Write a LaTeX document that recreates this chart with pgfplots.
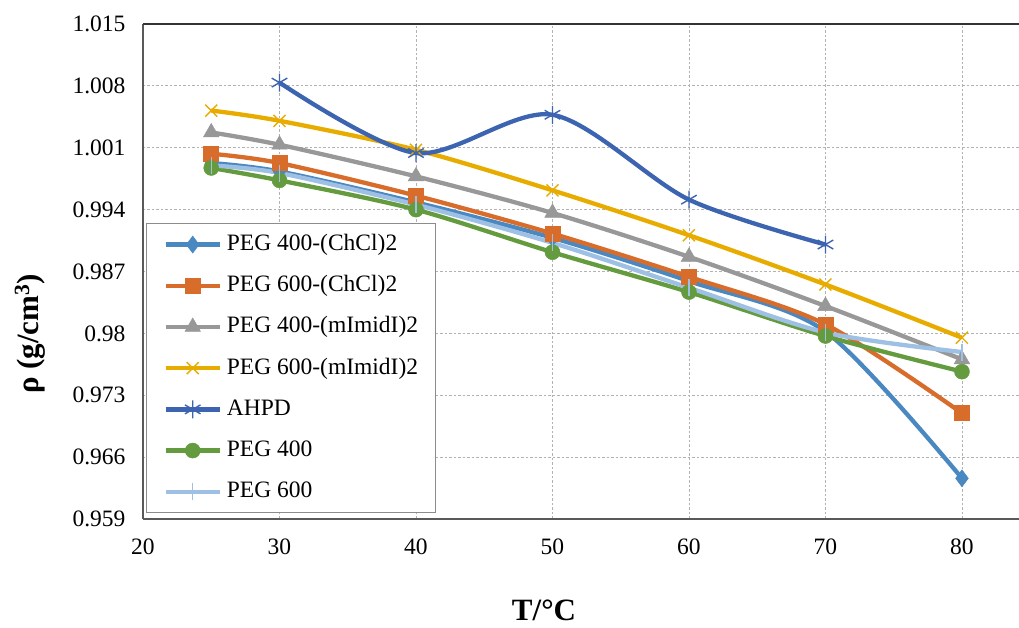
\documentclass[border=0pt]{standalone}
\usepackage{fontspec}
\setmainfont{Liberation Serif}
\usepackage{pgfplots}
\pgfplotsset{compat=1.18}
\usepackage{pgfplotstable}

\definecolor{cA}{RGB}{74,136,194}
\definecolor{cB}{RGB}{216,108,42}
\definecolor{cC}{RGB}{152,152,152}
\definecolor{cD}{RGB}{232,172,0}
\definecolor{cE}{RGB}{60,100,176}
\definecolor{cF}{RGB}{100,155,62}
\definecolor{cG}{RGB}{157,192,228}

\pgfplotstableread{
x y
25 0.99927
30 0.99832
40 0.99482
50 0.99081
60 0.98591
70 0.98020
80 0.96360
}\tA
\pgfplotstableread{
x y
25 1.00032
30 0.99927
40 0.99558
50 0.99129
60 0.98640
70 0.98102
80 0.97097
}\tB
\pgfplotstableread{
x y
25 1.00273
30 1.00134
40 0.99776
50 0.99362
60 0.98866
70 0.98309
80 0.97706
}\tC
\pgfplotstableread{
x y
25 1.00521
30 1.00405
40 1.00077
50 0.99618
60 0.99110
70 0.98553
80 0.97951
}\tD
\pgfplotstableread{
x y
30 1.00837
40 1.00040
50 1.00473
60 0.99513
70 0.99005
}\tE
\pgfplotstableread{
x y
25 0.99871
30 0.99731
40 0.99400
50 0.98918
60 0.98467
70 0.97970
80 0.97567
}\tF
\pgfplotstableread{
x y
25 0.99900
30 0.99814
40 0.99456
50 0.99024
60 0.98516
70 0.98010
80 0.97789
}\tG

\begin{document}
\begin{tikzpicture}
\path[use as bounding box] (-143pt,-109pt) rectangle (876pt,519pt);
\begin{axis}[
  at={(0pt,0pt)}, anchor=origin,
  scale only axis,
  width=876pt, height=495pt,
  xmin=20, xmax=84.18,
  ymin=0.959, ymax=1.015,
  xtick={20,30,40,50,60,70,80},
  ytick={0.959,0.966,0.973,0.980,0.987,0.994,1.001,1.008,1.015},
  yticklabels={0.959,0.966,0.973,0.98,0.987,0.994,1.001,1.008,1.015},
  /pgf/number format/assume math mode=true,
  tick label style={font=\fontsize{23.5}{28}\selectfont, text=black},
  xticklabel style={yshift=-16pt},
  yticklabel style={xshift=-14pt},
  major tick length=0pt,
  axis x line*=bottom,
  axis y line*=left,
  axis line style={draw=black!65, line width=1.6pt},
  grid=major,
  major grid style={draw=black!30, line width=0.8pt, dash pattern=on 2.5pt off 2pt},
  xlabel={\textbf{T/°C}},
  xlabel style={at={(rel axis cs:0.4578,0)}, anchor=base, yshift=-101pt, font=\fontsize{31}{36}\selectfont},
  ylabel={\textbf{ρ (g/cm\textsuperscript{3})}},
  ylabel style={at={(rel axis cs:0,0.374)}, anchor=center, yshift=113pt, font=\fontsize{31}{36}\selectfont},
  legend cell align=left,
  legend image code/.code={%
    \draw[mark repeat=2,mark phase=2,#1] plot coordinates {(0pt,0pt) (27pt,0pt) (54pt,0pt)};},
  legend style={at={(rel axis cs:0.0034,0.598)}, anchor=north west,
    draw=black!45, line width=1.2pt, fill=white,
    font=\fontsize{23.5}{28}\selectfont,
    inner xsep=17pt, inner ysep=10pt,
    row sep=19.2pt, column sep=5pt,
    nodes={inner sep=0pt, text height=17pt, text depth=5pt}},
  every axis plot/.append style={line width=4.3pt, smooth, tension=0.5},
]
\addplot[cA, mark=diamond*, mark size=8.5pt, mark options={solid, fill=cA, line width=0.5pt}] table {\tA};
\addlegendentry{PEG 400-(ChCl)2}
\addplot[cB, mark=square*, mark size=7.5pt, mark options={solid, fill=cB, line width=0.5pt}] table {\tB};
\addlegendentry{PEG 600-(ChCl)2}
\addplot[cC, mark=triangle*, mark size=9pt, mark options={solid, fill=cC, line width=0.5pt}] table {\tC};
\addlegendentry{PEG 400-(mImidI)2}
\addplot[cD, mark=x, mark size=8.5pt, mark options={solid, line width=1.4pt}] table {\tD};
\addlegendentry{PEG 600-(mImidI)2}
\addplot[cE, mark=asterisk, mark size=9pt, mark options={solid, line width=1.4pt}] table {\tE};
\addlegendentry{AHPD}
\addplot[cF, mark=*, mark size=7.5pt, mark options={solid, fill=cF, line width=0.5pt}] table {\tF};
\addlegendentry{PEG 400}
\addplot[cG, mark=|, mark size=8.5pt, mark options={solid, line width=1.4pt}] table {\tG};
\addlegendentry{PEG 600}
\draw[black!80, line width=2pt] (rel axis cs:0,1) -- (rel axis cs:1,1);
\end{axis}
\end{tikzpicture}
\end{document}
